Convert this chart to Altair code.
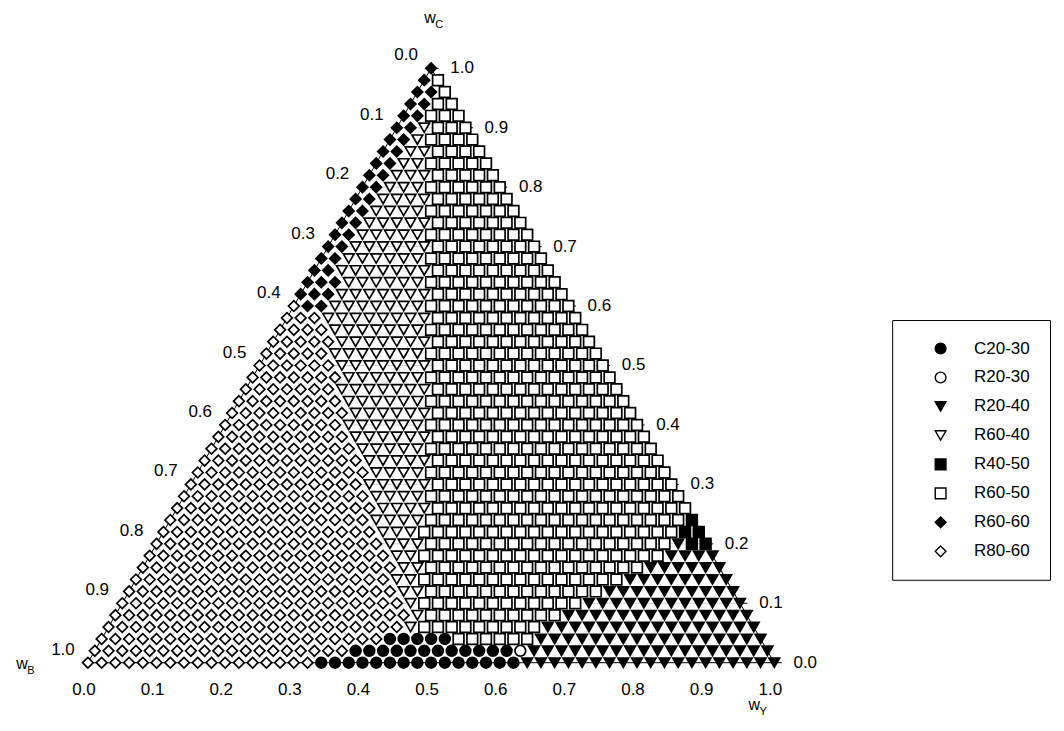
import altair as alt
import pandas as pd

# ---------------- data ----------------
CATEGORIES = ["C20-30", "R20-30", "R20-40", "R60-40", "R40-50", "R60-50", "R60-60", "R80-60"]
CODES = ["CF", "CO", "TF", "TO", "SF", "SO", "DF", "DO"]
SHAPES = ["circle", "circle", "triangle-down", "triangle-down", "square", "square", "diamond", "diamond"]
FILLS = ["black", "white", "black", "white", "black", "white", "black", "white"]
STROKES = ["black"] * 8
SIZES = [115, 115, 145, 145, 96, 96, 148, 148]

STEP = 0.02  # grid step of the weights
# one entry per row of constant w_C (0.00, 0.02, ... 1.00); runs from w_Y = 0 upward
ROW_RUNS = [
    "DO17 CF15 TF19",
    "DO19 CF12 CO1 TF18",
    "DO21 CF5 SO6 TF17",
    "DO22 TO1 SO9 TF16",
    "DO22 TO1 SO10 TF14",
    "DO21 TO1 SO12 TF12",
    "DO20 TO2 SO13 TF10",
    "DO19 TO2 SO15 TF8",
    "DO19 TO2 SO16 TF6",
    "DO18 TO2 SO18 TF4",
    "DO17 TO3 SO18 TF1 SF2",
    "DO16 TO3 SO19 SF2",
    "DO15 TO4 SO19 SF1",
    "DO15 TO4 SO19",
    "DO14 TO4 SO19",
    "DO13 TO5 SO18",
    "DO13 TO4 SO18",
    "DO12 TO5 SO17",
    "DO11 TO5 SO17",
    "DO10 TO6 SO16",
    "DO9 TO6 SO16",
    "DO9 TO6 SO15",
    "DO8 TO6 SO15",
    "DO7 TO7 SO14",
    "DO7 TO6 SO14",
    "DO6 TO7 SO13",
    "DO5 TO7 SO13",
    "DO5 TO7 SO12",
    "DO4 TO7 SO12",
    "DO3 TO8 SO11",
    "DO1 DF2 TO7 SO11",
    "DF3 TO7 SO10",
    "DF3 TO6 SO10",
    "DF2 TO7 SO9",
    "DF2 TO6 SO9",
    "DF2 TO6 SO8",
    "DF2 TO5 SO8",
    "DF2 TO5 SO7",
    "DF2 TO4 SO7",
    "DF2 TO4 SO6",
    "DF2 TO3 SO6",
    "DF2 TO3 SO5",
    "DF2 TO2 SO5",
    "DF2 TO2 SO4",
    "DF2 TO1 SO4",
    "DF2 TO1 SO3",
    "DF2 SO3",
    "DF2 SO2",
    "DF2 SO1",
    "DF1 SO1",
    "DF1",
]

TICKS = [0.0, 0.1, 0.2, 0.3, 0.4, 0.5, 0.6, 0.7, 0.8, 0.9, 1.0]
TICK_TEXT = ["0.0", "0.1", "0.2", "0.3", "0.4", "0.5", "0.6", "0.7", "0.8", "0.9", "1.0"]

FONT = "Liberation Sans"

# ---------------- build tables ----------------
pts = []
for j, runs in enumerate(ROW_RUNS):
    wc = round(j * STEP, 4)
    i = 0
    for tok in runs.split():
        code, cnt = tok[:2], int(tok[2:])
        for _ in range(cnt):
            wy = round(i * STEP, 4)
            pts.append({"x": wy + wc / 2, "y": wc, "cls": CATEGORIES[CODES.index(code)]})
            i += 1
points_df = pd.DataFrame(pts)

grid = []
for t in TICKS[1:-1]:
    grid.append({"x": t / 2, "y": t, "x2": 1 - t / 2, "y2": t})          # const w_C
    grid.append({"x": t, "y": 0, "x2": t + (1 - t) / 2, "y2": 1 - t})    # const w_Y
    grid.append({"x": 1 - t, "y": 0, "x2": (1 - t) / 2, "y2": 1 - t})    # const w_B
grid_df = pd.DataFrame(grid)

outline_df = pd.DataFrame([
    {"x": 0, "y": 0, "x2": 1, "y2": 0},
    {"x": 1, "y": 0, "x2": 0.5, "y2": 1},
    {"x": 0.5, "y": 1, "x2": 0, "y2": 0},
])

right_df = pd.DataFrame({"x": [1 - c / 2 for c in TICKS], "y": TICKS, "t": TICK_TEXT,
                         "x2": [1 - c / 2 + 0.011 for c in TICKS]})
left_df = pd.DataFrame({"x": [(1 - b) / 2 for b in TICKS], "y": [1 - b for b in TICKS], "t": TICK_TEXT})
bottom_df = pd.DataFrame({"x": TICKS, "y": [0.0] * len(TICKS), "t": TICK_TEXT})

xs = alt.Scale(domain=[0, 1], nice=False, zero=False)
ys = alt.Scale(domain=[0, 1], nice=False, zero=False)
X = lambda f="x": alt.X(f"{f}:Q", scale=xs, axis=None)
Y = lambda f="y": alt.Y(f"{f}:Q", scale=ys, axis=None)

grid_layer = alt.Chart(grid_df).mark_rule(color="#d2d2d2", strokeWidth=1).encode(
    x=X(), y=Y(), x2="x2:Q", y2="y2:Q")
outline_layer = alt.Chart(outline_df).mark_rule(color="black", strokeWidth=1).encode(
    x=X(), y=Y(), x2="x2:Q", y2="y2:Q")
tick_layer = alt.Chart(right_df).mark_rule(color="black", strokeWidth=1).encode(
    x=X(), y=Y(), x2="x2:Q")

leg = alt.Legend(
    title=None, orient="none", legendX=805, legendY=252,
    strokeColor="black", fillColor="white", padding=20, rowPadding=11,
    symbolStrokeColor="black", symbolStrokeWidth=1.4, symbolOpacity=1,
    symbolOffset=20, labelOffset=25,
    labelFont=FONT, labelFontSize=17, labelColor="black",
)

point_layer = alt.Chart(points_df).mark_point(
    filled=True, strokeWidth=1.7, opacity=1
).encode(
    x=X(), y=Y(),
    shape=alt.Shape("cls:N", scale=alt.Scale(domain=CATEGORIES, range=SHAPES), legend=leg),
    fill=alt.Fill("cls:N", scale=alt.Scale(domain=CATEGORIES, range=FILLS), legend=leg),
    stroke=alt.Stroke("cls:N", scale=alt.Scale(domain=CATEGORIES, range=STROKES), legend=leg),
    size=alt.Size("cls:N", scale=alt.Scale(domain=CATEGORIES, range=SIZES), legend=leg),
)

def txt(df, dx, dy, size=17):
    return alt.Chart(df).mark_text(font=FONT, fontSize=size, color="black", dx=dx, dy=dy,
                                   align="center", baseline="middle").encode(x=X(), y=Y(), text="t:N")

right_text = txt(right_df, 31, 0)
left_text = txt(left_df, -25, -13)
bottom_text = txt(bottom_df, -4, 27)

def title(x, y, main, sub, dx, dy):
    d1 = pd.DataFrame({"x": [x], "y": [y], "t": [main]})
    d2 = pd.DataFrame({"x": [x], "y": [y], "t": [sub]})
    return txt(d1, dx, dy, 16) + txt(d2, dx + 9, dy + 7, 11)

titles = (title(0.5, 1.0, "w", "C", -1, -50)
          + title(0.0, 0.0, "w", "B", -66, 1)
          + title(1.0, 0.0, "w", "Y", -20, 42))

chart = alt.layer(
    grid_layer, outline_layer, tick_layer, point_layer,
    right_text, left_text, bottom_text, titles
).properties(
    width=687, height=595,
    padding={"left": 80, "top": 60, "right": 282, "bottom": 58},
    autosize=alt.AutoSizeParams(type="none"),
    background="white",
).configure_view(stroke=None)

chart.save("out.html", embed_options={"renderer": "svg", "actions": False})
